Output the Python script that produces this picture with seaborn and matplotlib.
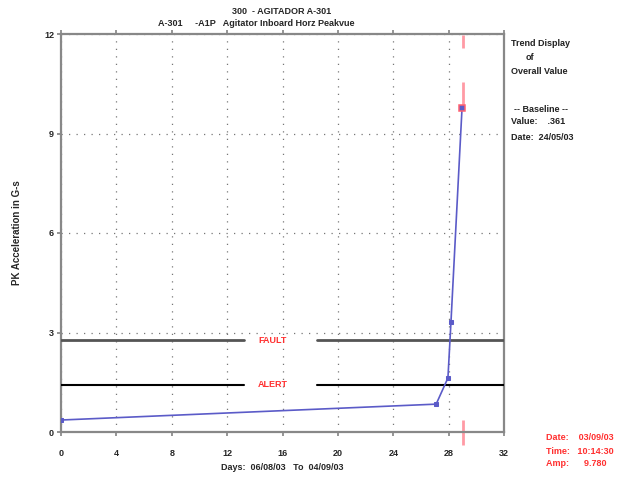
import matplotlib
matplotlib.use("Agg")
import matplotlib.pyplot as plt
import seaborn as sns
import pandas as pd

days = [0.0, 27.1, 27.95, 28.17, 28.97]
amps = [0.361, 0.84, 1.63, 3.32, 9.78]
fault_level = 2.77
alert_level = 1.42
xticks = [0, 4, 8, 12, 16, 20, 24, 28, 32]
yticks = [0, 3, 6, 9, 12]

sns.set_theme(style="white")
plt.rcParams['font.family'] = ['Liberation Sans', 'DejaVu Sans']

fig = plt.figure(figsize=(6.36, 4.78), dpi=100)
ax = fig.add_axes([61/636, 46/478, 443/636, 398/478])

df = pd.DataFrame({"day": days, "amp": amps})
blue = "#5b5bc8"
sns.lineplot(data=df, x="day", y="amp", ax=ax, color=blue, lw=1.2,
             marker="s", markersize=3.5, markeredgecolor=blue, markerfacecolor=blue, zorder=4)
# last point marker with red edge
ax.plot([days[-1]], [amps[-1]], marker="s", ms=4.5, mfc=blue, mec="#ff6070", mew=1.1, zorder=5)

ax.set_xlim(0, 32)
ax.set_ylim(0, 12)
ax.set_xticks(xticks)
ax.set_yticks(yticks)
ax.set_xticklabels([str(t) for t in xticks], fontsize=6.5, fontweight="bold")
ax.set_yticklabels([str(t) for t in yticks], fontsize=6.5, fontweight="bold")
ax.tick_params(axis="x", pad=9, length=3, color="#888888", direction="out", bottom=True, top=True)
ax.tick_params(axis="y", pad=2, length=3, color="#888888", direction="out", left=True)
ax.grid(True, linestyle=(0, (1, 5)), color="#777777", lw=0.9)
for s in ax.spines.values():
    s.set_color("#888888")
    s.set_linewidth(1.6)

ax.set_xlabel("Days:  06/08/03   To  04/09/03", fontsize=6.5, fontweight="bold", labelpad=4)
ax.set_ylabel("PK Acceleration in G-s", fontsize=7, fontweight="bold", labelpad=16)

# Fault / alert lines with a gap for the labels
gap_l, gap_r = 13.2, 18.5
ax.plot([0, gap_l], [fault_level]*2, color="#555555", lw=2, zorder=3)
ax.plot([gap_r, 32], [fault_level]*2, color="#555555", lw=2, zorder=3)
ax.plot([0, gap_l], [alert_level]*2, color="black", lw=1.5, zorder=3)
ax.plot([gap_r, 32], [alert_level]*2, color="black", lw=1.5, zorder=3)
ax.text(15.3, fault_level, "FAULT", color="#ff3030", fontsize=6.5, fontweight="bold", ha="center", va="center")
ax.text(15.3, alert_level, "ALERT", color="#ff3030", fontsize=6.5, fontweight="bold", ha="center", va="center")

# cursor line segments
cx = days[-1] + 0.07
pink = "#ff9aa5"
for y0, y1 in [(11.58, 11.97), (9.85, 10.55), (-0.39, 0.36)]:
    ax.plot([cx, cx], [y0, y1], color=pink, lw=2, clip_on=False, zorder=2, solid_capstyle="butt")

# titles
fig.text(282/636, 1 - 12/478, "300  - AGITADOR A-301", fontsize=6.5, fontweight="bold", ha="center", va="center")
fig.text(158/636, 1 - 24/478, "A-301     -A1P   Agitator Inboard Horz Peakvue", fontsize=6.5, fontweight="bold", ha="left", va="center")

# right side info
rt = dict(fontsize=6.5, fontweight="bold", ha="left", va="center", color="#222222")
fig.text(511/636, 1 - 44/478, "Trend Display", **rt)
fig.text(526/636, 1 - 57/478, "of", **rt)
fig.text(511/636, 1 - 71/478, "Overall Value", **rt)
fig.text(514/636, 1 - 110/478, "-- Baseline --", **rt)
fig.text(511/636, 1 - 122/478, "Value:    .361", **rt)
fig.text(511/636, 1 - 137/478, "Date:  24/05/03", **rt)

rd = dict(fontsize=6.5, fontweight="bold", ha="left", va="center", color="#ff3030")
fig.text(546/636, 1 - 438/478, "Date:    03/09/03", **rd)
fig.text(546/636, 1 - 451/478, "Time:   10:14:30", **rd)
fig.text(546/636, 1 - 464/478, "Amp:      9.780", **rd)

fig.savefig("out.png", dpi=100)
